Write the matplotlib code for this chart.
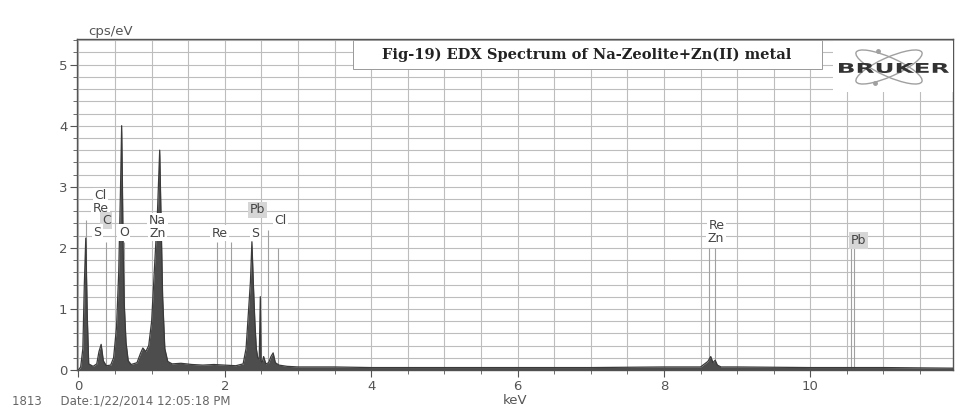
import matplotlib
matplotlib.use("Agg")
import matplotlib.pyplot as plt
from matplotlib.patches import Ellipse, Rectangle, PathPatch
from matplotlib.textpath import TextPath
from matplotlib.font_manager import FontProperties
from matplotlib.transforms import Affine2D

# spectrum (keV, cps/eV)
energy = [0.00, 0.03, 0.06, 0.08, 0.10, 0.12, 0.14, 0.20, 0.25, 0.28, 0.31, 0.34, 0.38,
          0.44, 0.48, 0.52, 0.55, 0.575, 0.59, 0.60, 0.61, 0.625, 0.65, 0.68, 0.72,
          0.80, 0.85, 0.88, 0.92, 0.96, 1.00, 1.04, 1.08, 1.11, 1.13, 1.15, 1.18,
          1.22, 1.28, 1.40, 1.55, 1.70, 1.85, 2.00, 2.15, 2.25, 2.29, 2.32, 2.35,
          2.37, 2.39, 2.41, 2.43, 2.45, 2.47, 2.485, 2.495, 2.51, 2.53, 2.56, 2.60,
          2.63, 2.66, 2.69, 2.74, 2.85, 3.0, 3.5, 4.0, 5.0, 6.0, 7.0, 8.0, 8.5,
          8.60, 8.64, 8.67, 8.70, 8.73, 8.78, 9.0, 10.0, 11.0, 11.95]
counts = [0.00, 0.05, 0.35, 1.40, 2.16, 0.90, 0.10, 0.06, 0.10, 0.30, 0.42, 0.15, 0.07,
          0.08, 0.20, 0.70, 1.60, 3.00, 4.00, 3.10, 2.00, 1.10, 0.45, 0.15, 0.09,
          0.12, 0.28, 0.36, 0.30, 0.40, 0.80, 1.70, 2.60, 3.60, 2.40, 1.20, 0.35,
          0.14, 0.10, 0.11, 0.09, 0.08, 0.09, 0.08, 0.07, 0.10, 0.35, 0.90, 1.45,
          2.10, 1.40, 0.80, 0.35, 0.20, 0.18, 1.20, 0.15, 0.12, 0.22, 0.10, 0.12,
          0.22, 0.28, 0.12, 0.08, 0.06, 0.05, 0.05, 0.04, 0.04, 0.04, 0.04, 0.05, 0.05,
          0.14, 0.22, 0.12, 0.16, 0.08, 0.05, 0.05, 0.04, 0.04, 0.03]

# element marker lines (keV, top in cps/eV)
marker_kev = [0.10, 0.37, 0.62, 1.11, 1.89, 2.08, 2.59, 2.73, 8.62, 8.70, 10.55, 10.60]
marker_top = [2.45, 2.10, 2.10, 2.10, 2.10, 2.10, 2.30, 2.00, 2.00, 2.00, 2.05, 2.05]

# element labels: text, keV, cps/eV, grey box?
label_text = ["Cl", "Re", "C", "S", "O", "Na", "Zn", "Re", "S", "Pb", "Cl", "Re", "Zn", "Pb"]
label_kev = [0.30, 0.30, 0.38, 0.26, 0.62, 1.08, 1.08, 1.93, 2.42, 2.45, 2.76, 8.72, 8.71, 10.66]
label_cps = [2.85, 2.64, 2.45, 2.25, 2.25, 2.44, 2.24, 2.24, 2.24, 2.62, 2.44, 2.36, 2.16, 2.12]
label_grey = [False, False, True, False, False, False, False, False, False, True, False,
              False, False, True]

fig = plt.figure(figsize=(9.58, 4.09), dpi=100)
ax = fig.add_axes([77 / 958, 39 / 409, 876 / 958, 331 / 409])
ax.set_xlim(-0.02, 11.95)
ax.set_ylim(0, 5.42)

ax.set_xticks([0, 2, 4, 6, 8, 10])
ax.set_xticks([x * 0.5 for x in range(24)], minor=True)
ax.set_yticks([0, 1, 2, 3, 4, 5])
ax.set_yticks([y * 0.2 for y in range(28)], minor=True)
ax.grid(which="both", color="#bdbdbd", lw=0.8)
ax.set_axisbelow(True)
ax.tick_params(which="major", length=5, color="#555555", labelcolor="#555555",
               labelsize=9.5, pad=2)
ax.tick_params(which="minor", length=3, color="#555555")
for s in ax.spines.values():
    s.set_color("#555555")
    s.set_linewidth(1.0)

ax.vlines(marker_kev, 0, marker_top, color="#a0a0a0", lw=0.8, zorder=2)
ax.fill_between(energy, counts, color="#4d4d4d", lw=0, zorder=3)
ax.plot(energy, counts, color="#3a3a3a", lw=0.9, zorder=3)

for t, x, y, g in zip(label_text, label_kev, label_cps, label_grey):
    ax.text(x, y, t, ha="center", va="center", fontsize=9, color="#444444", zorder=5,
            bbox=dict(facecolor="#d6d6d6" if g else "white", edgecolor="none", pad=1.2))

ax.set_xlabel("keV", fontsize=9.5, color="#555555", labelpad=1)
fig.text(88 / 958, 1 - 31 / 409, "cps/eV", fontsize=9.5, color="#555555", va="center")

# title box, flush with the top of the plot frame
fig.add_artist(Rectangle((353 / 958, 1 - 69 / 409), 469 / 958, 29 / 409,
                         transform=fig.transFigure, facecolor="white",
                         edgecolor="#999999", lw=0.7, zorder=4))
fig.text(587 / 958, 1 - 55 / 409, "Fig-19) EDX Spectrum of Na-Zeolite+Zn(II) metal",
         family="DejaVu Serif", weight="bold", fontsize=10.5, color="#222222",
         ha="center", va="center", zorder=5)

# Bruker logo, in pixel units
lax = fig.add_axes([833 / 958, 1 - 92 / 409, 120 / 958, 51 / 409])
lax.set_xlim(0, 120)
lax.set_ylim(0, 51)
lax.patch.set_facecolor("white")
for s in lax.spines.values():
    s.set_visible(False)
lax.set_xticks([])
lax.set_yticks([])
lax.add_patch(Ellipse((56, 25), 72, 19, angle=24, fill=False, ec="#a0a0a0", lw=1.0))
lax.add_patch(Ellipse((56, 25), 72, 19, angle=-24, fill=False, ec="#a0a0a0", lw=1.0))
lax.plot([45, 42], [41, 9], "o", ms=2.5, color="#a0a0a0")
# stretched block lettering
tp = TextPath((0, 0), "BRUKER", size=10,
              prop=FontProperties(family="DejaVu Sans", weight="bold"))
bb = tp.get_extents()
sx = 110 / bb.width
sy = 10 / bb.height
tr = Affine2D().translate(-bb.x0, -bb.y0).scale(sx, sy).translate(6, 19)
lax.add_patch(PathPatch(tr.transform_path(tp), facecolor="#333333", edgecolor="none"))

fig.text(12 / 958, 1 / 409, "1813     Date:1/22/2014 12:05:18 PM", fontsize=8.5,
         color="#666666", va="bottom")

fig.savefig("out.png", dpi=100)
